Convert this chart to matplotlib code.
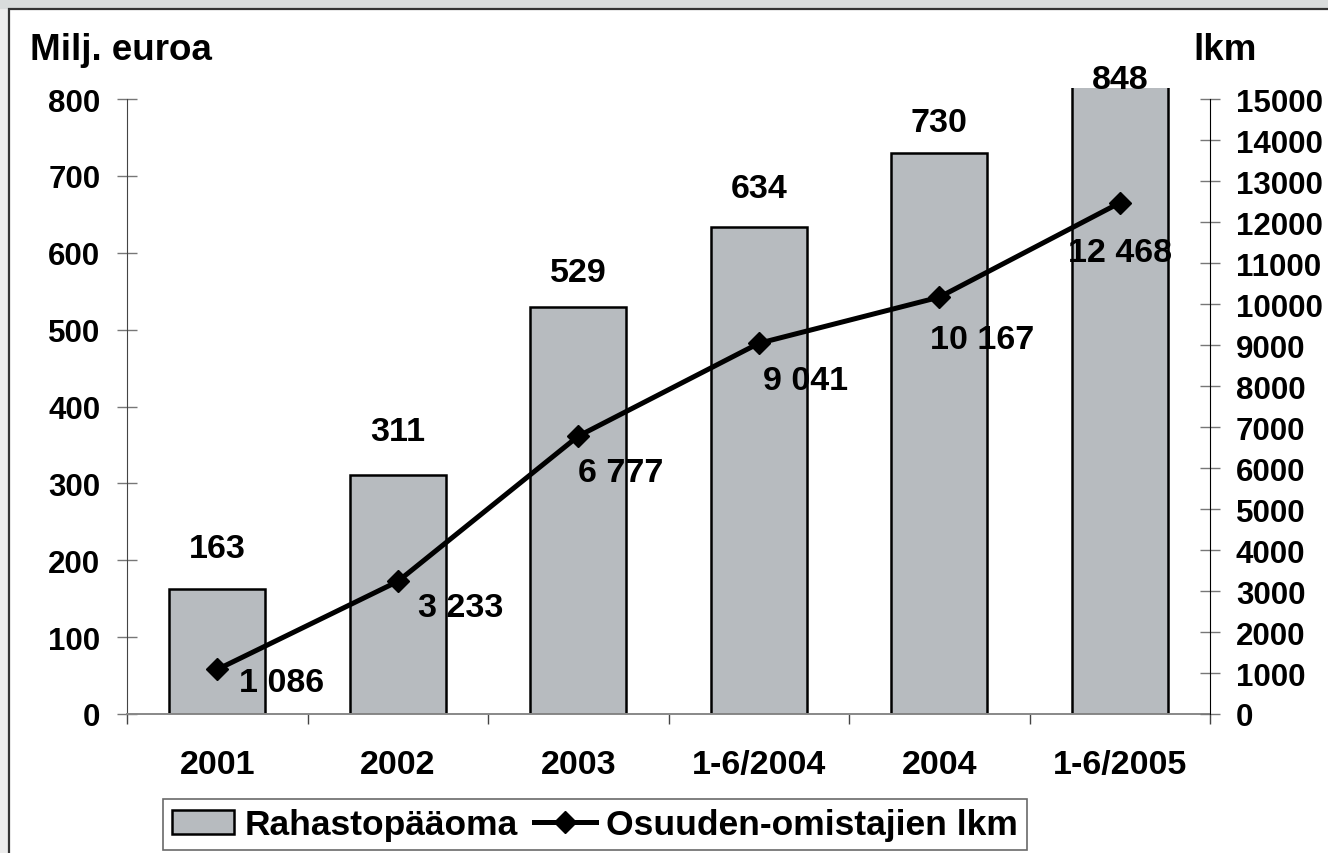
import matplotlib.pyplot as plt
from matplotlib.patches import Rectangle
from matplotlib.lines import Line2D

plt.rcParams["font.family"] = ["Liberation Sans", "DejaVu Sans"]
plt.rcParams["font.weight"] = "bold"

# Data
periods = ["2001", "2002", "2003", "1-6/2004", "2004", "1-6/2005"]
capital = [163, 311, 529, 634, 730, 848]          # Milj. euroa
holders = [1086, 3233, 6777, 9041, 10167, 12468]  # lkm

# label offsets in pixels (dx, dy down) - placed by hand in the original
holder_offsets = [(64, 13), (63, 26), (42, 36), (47, 37), (43, 42), (0, 50)]
capital_offsets = [40, 43, 35, 38, 30, 8]

W, H = 1328, 854
fig = plt.figure(figsize=(W / 100, H / 100), dpi=100)
fig.patch.set_facecolor("#d9dcdc")

# white slide panel
fig.patches.append(Rectangle((0, 0), 9 / W, 1 - 10 / H, transform=fig.transFigure,
                             facecolor="#ececec", edgecolor="none", zorder=-2))
fig.patches.append(Rectangle((9 / W, -0.01), 1.1, 1.01 - 10 / H, transform=fig.transFigure,
                             facecolor="white", edgecolor="#333333", lw=1.6, zorder=-1))

top_left = 815
ax = fig.add_axes([127 / W, 1 - 715 / H, (1210 - 127) / W, (715 - 88.5) / H])
ax.set_facecolor("none")
x = list(range(len(periods)))
ax.bar(x, capital, width=0.53, color="#b7bbbf", edgecolor="black", linewidth=1.8, zorder=2)
ax.set_xlim(-0.5, len(periods) - 0.5)
ax.set_ylim(0, top_left)
ax.set_yticks(range(0, 801, 100))

for s in ["top", "right"]:
    ax.spines[s].set_visible(False)
ax.spines["left"].set_bounds(0, 800)
ax.spines["left"].set_color("#444444")
ax.spines["bottom"].set_color("#888888")
ax.spines["bottom"].set_linewidth(1.4)

ax.tick_params(axis="y", direction="inout", length=14.4, width=1, color="#777777",
               labelsize=22.5, pad=12)
ax.set_xticks(x)
ax.set_xticklabels(periods)
ax.tick_params(axis="x", which="major", length=0, labelsize=24.5, pad=25)
ax.set_xticks([i - 0.5 for i in range(len(periods) + 1)], minor=True)
ax.tick_params(axis="x", which="minor", direction="out", length=7.2, width=1, color="#444444")

for i, v in enumerate(capital):
    y = min(v, top_left)
    ax.annotate(str(v), (i, y), xytext=(0, capital_offsets[i] * 0.72),
                textcoords="offset points", ha="center", va="center",
                fontsize=24.5, fontweight="bold", annotation_clip=False)

ax2 = ax.twinx()
ax2.set_facecolor("none")
ax2.set_ylim(0, 15000 * top_left / 800)
ax2.set_yticks(range(0, 15001, 1000))
ax2.plot(x, holders, color="black", lw=3.6, marker="D", markersize=11, zorder=3)
for s in ["top", "left", "bottom"]:
    ax2.spines[s].set_visible(False)
ax2.spines["right"].set_bounds(0, 15000)
ax2.spines["right"].set_color("black")
ax2.tick_params(axis="y", direction="inout", length=14.4, width=1, color="#777777",
                labelsize=22.5, pad=11.5)

for i, v in enumerate(holders):
    dx, dy = holder_offsets[i]
    ax2.annotate(f"{v:,}".replace(",", " "), (i, v), xytext=(dx * 0.72, -dy * 0.72),
                 textcoords="offset points", ha="center", va="center",
                 fontsize=24.5, fontweight="bold")

for lab in ax.get_yticklabels() + ax2.get_yticklabels() + ax.get_xticklabels():
    lab.set_fontweight("bold")

fig.text(30 / W, 1 - 60 / H, "Milj. euroa", fontsize=26.5, fontweight="bold", va="baseline")
fig.text(1193 / W, 1 - 60 / H, "lkm", fontsize=26.5, fontweight="bold", va="baseline")

handles = [Rectangle((0, 0), 1, 1, facecolor="#b7bbbf", edgecolor="black", lw=1.8),
           Line2D([], [], color="black", lw=3.6, marker="D", markersize=11)]
leg = fig.legend(handles, ["Rahastopääoma", "Osuuden-omistajien lkm"],
                 loc="lower left", bbox_to_anchor=(163 / W, 3 / H), ncol=2,
                 prop={"size": 25.5, "weight": "bold"}, frameon=True, fancybox=False,
                 borderaxespad=0, borderpad=0.25, handlelength=1.75, handleheight=0.65,
                 handletextpad=0.3, columnspacing=0.45)
leg.get_frame().set_edgecolor("#444444")
leg.get_frame().set_linewidth(1.2)

fig.savefig("out.png", dpi=100, facecolor=fig.get_facecolor())
